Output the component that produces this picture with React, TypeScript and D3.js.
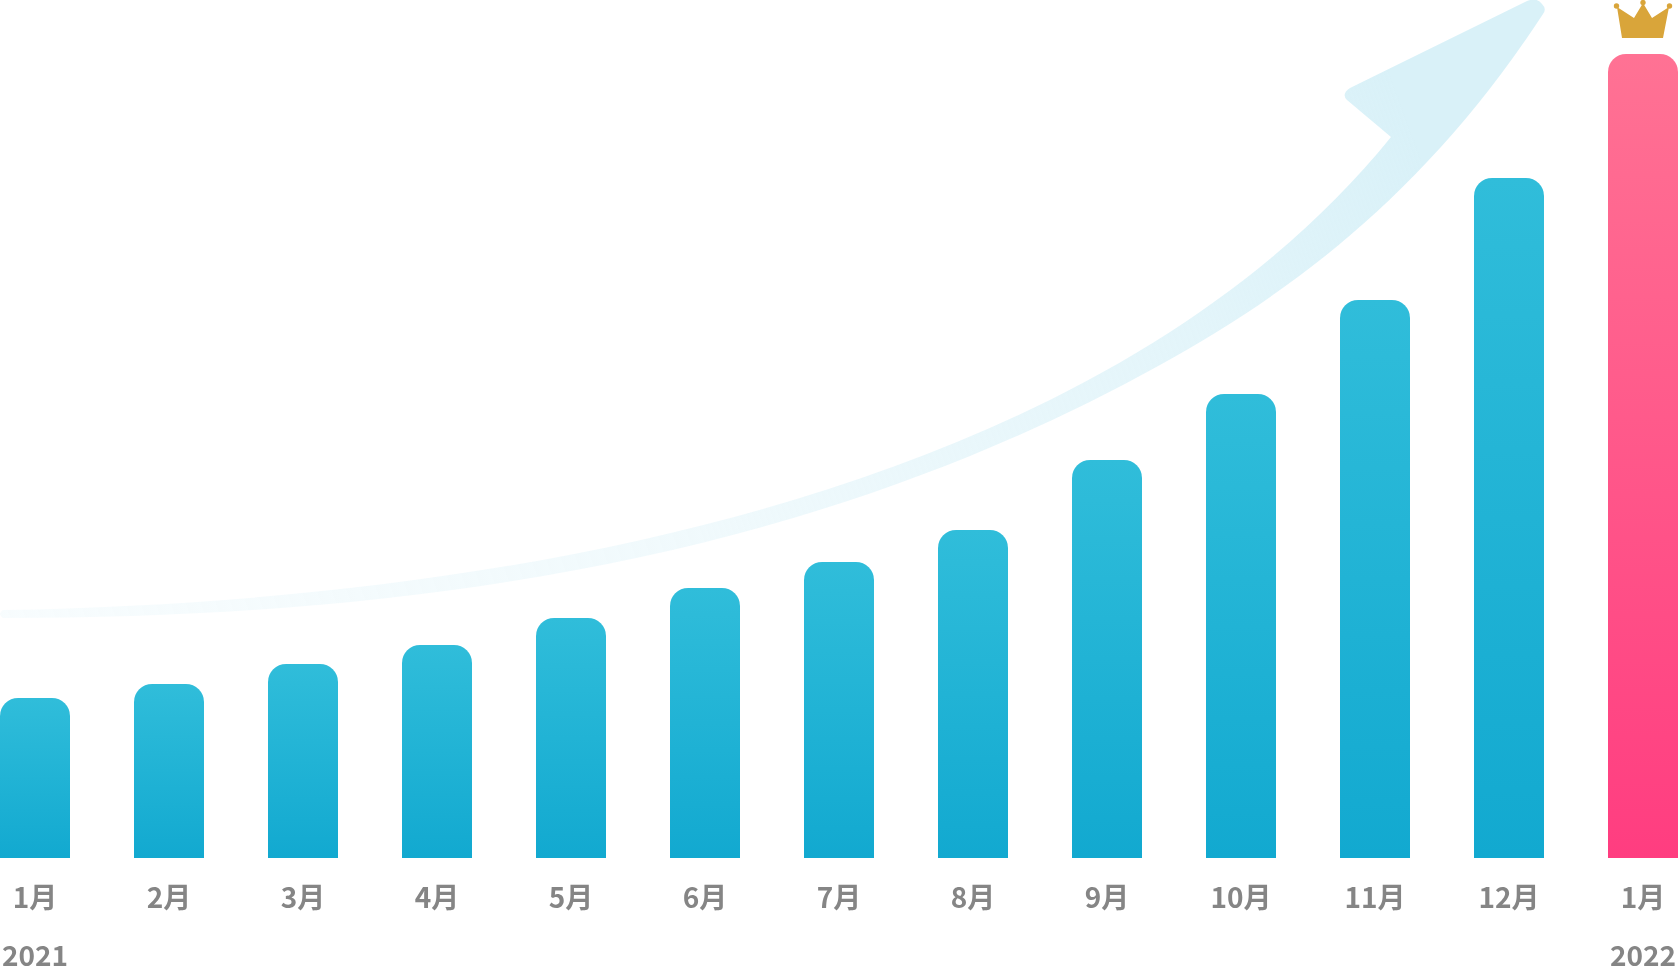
import React from "react";
import * as d3 from "d3";

const W = 1678, H = 974;
const months = ["1月","2月","3月","4月","5月","6月","7月","8月","9月","10月","11月","12月","1月"];
const values = [160,174,194,213,240,270,296,328,398,464,558,680,804];
const yearLabels = [{ index: 0, label: "2021" }, { index: 12, label: "2022" }];

export default function App() {
  const x = d3.scaleBand<number>().domain(d3.range(months.length)).range([0, W]).paddingInner(64 / 134).paddingOuter(0);
  const y = d3.scaleLinear().domain([0, 804]).range([858, 54]);
  const r = 18;
  const p = d3.path();
  p.moveTo(3, 610);
  p.bezierCurveTo(600, 600, 1130, 460, 1391, 137);
  p.lineTo(1347, 100);
  p.quadraticCurveTo(1341, 94, 1350, 88);
  p.lineTo(1527, 1);
  p.quadraticCurveTo(1537, -3, 1542, 4);
  p.quadraticCurveTo(1547, 9, 1543, 14);
  p.bezierCurveTo(1425, 195, 1290, 293, 1160, 365);
  p.bezierCurveTo(860, 531, 500, 618, 3, 618);
  p.quadraticCurveTo(-3, 614, 3, 610);
  p.closePath();
  return (
    <svg width={W} height={H} style={{ position: "fixed", left: 0, top: 0, display: "block" }}>
      <defs>
        <linearGradient id="blue" x1="0" y1="0" x2="0" y2="1"><stop offset="0" stopColor="#30bdda" /><stop offset="1" stopColor="#12a9d0" /></linearGradient>
        <linearGradient id="pink" x1="0" y1="0" x2="0" y2="1"><stop offset="0" stopColor="#ff7294" /><stop offset="1" stopColor="#ff3d80" /></linearGradient>
        <linearGradient id="arr" gradientUnits="userSpaceOnUse" x1="0" y1="610" x2="1400" y2="100">
          <stop offset="0" stopColor="#d9f1f8" stopOpacity="0.2" />
          <stop offset="0.46" stopColor="#d9f1f8" stopOpacity="0.39" />
          <stop offset="0.82" stopColor="#d9f1f8" stopOpacity="0.74" />
          <stop offset="1" stopColor="#d9f1f8" />
        </linearGradient>
      </defs>
      <path d={p.toString()} fill="url(#arr)" />
      {values.map((v, i) => {
        const bx = x(i)!, w = x.bandwidth(), t = y(v), b = y(0);
        return <path key={i} d={`M${bx},${b}V${t + r}A${r},${r} 0 0 1 ${bx + r},${t}H${bx + w - r}A${r},${r} 0 0 1 ${bx + w},${t + r}V${b}Z`} fill={i === 12 ? "url(#pink)" : "url(#blue)"} />;
      })}
      <path d="M1617,7 L1634,18 L1643,3 L1652,18 L1669,7 L1663,38 L1622,38 Z" fill="#d9a53a" />
      <circle cx="1616.5" cy="6" r="2.7" fill="#d9a53a" /><circle cx="1643" cy="2.5" r="2.7" fill="#d9a53a" /><circle cx="1669.5" cy="6" r="2.7" fill="#d9a53a" />
      <g fontFamily="'Noto Sans CJK JP'" fontWeight={700} fontSize={28} fill="#858585" textAnchor="middle">
        {months.map((m, i) => <text key={i} x={x(i)! + x.bandwidth() / 2} y={908}>{m}</text>)}
        {yearLabels.map(d => <text key={d.label} x={x(d.index)! + x.bandwidth() / 2} y={966}>{d.label}</text>)}
      </g>
    </svg>
  );
}
